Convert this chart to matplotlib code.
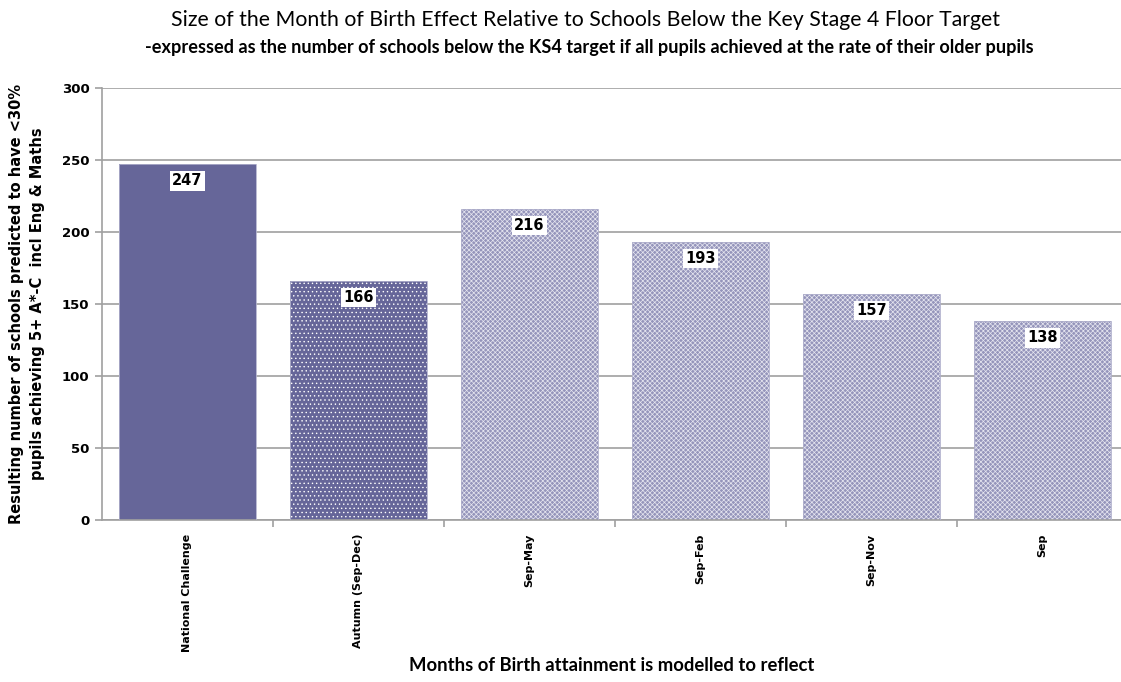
import matplotlib
matplotlib.use('Agg')
import matplotlib.pyplot as plt

plt.rcParams['hatch.linewidth'] = 0.5

categories = ['National Challenge', 'Autumn (Sep-Dec)', 'Sep-May', 'Sep-Feb', 'Sep-Nov', 'Sep']
values = [247, 166, 216, 193, 157, 138]

title = 'Size of the Month of Birth Effect Relative to Schools Below the Key Stage 4 Floor Target'
subtitle = '-expressed as the number of schools below the KS4 target if all pupils achieved at the rate of their older pupils'
xlabel = 'Months of Birth attainment is modelled to reflect'
ylabel = 'Resulting number of schools predicted to have <30%\npupils achieving 5+ A*-C  incl Eng & Maths'

fig = plt.figure(figsize=(11.21, 6.82), dpi=100)
ax = fig.add_axes([0.091, 0.2375, 0.915, 0.6335])

x = list(range(len(categories)))
# bar styles: solid, dotted, then checkered
faces = ['#666699', '#666699', '#9595bb', '#9595bb', '#9595bb', '#9595bb']
hatches = [None, '....', 'xxxxxxx', 'xxxxxxx', 'xxxxxxx', 'xxxxxxx']
hcols = ['#666699', 'white', '#e6e6f0', '#e6e6f0', '#e6e6f0', '#e6e6f0']
for i in x:
    ax.bar(i, values[i], width=0.8, color=faces[i], hatch=hatches[i],
           edgecolor=hcols[i], linewidth=0, zorder=2)
    ax.bar(i, values[i], width=0.8, fill=False, edgecolor='#b0b0cc', linewidth=0.6, zorder=3)
    ax.annotate(str(values[i]), (i, values[i]), xytext=(0, -12), textcoords='offset points',
                ha='center', va='center', fontsize=10.5, fontweight='bold', zorder=4,
                bbox=dict(boxstyle='square,pad=0.15', fc='white', ec='none'))

ax.set_xlim(-0.5, 5.5)
ax.set_ylim(0, 300)
ax.set_yticks(range(0, 301, 50))
ax.yaxis.grid(True, color='#a0a0a0', lw=1.2, zorder=0)
ax.set_axisbelow(True)
for s in ['top', 'right']:
    ax.spines[s].set_visible(False)
for s in ['left', 'bottom']:
    ax.spines[s].set_color('#a0a0a0')
    ax.spines[s].set_linewidth(1.2)

ax.set_xticks(x)
ax.set_xticklabels(categories, rotation=90, fontsize=8, fontweight='bold', va='top')
ax.tick_params(axis='x', which='major', length=0, pad=10)
ax.set_xticks([0.5, 1.5, 2.5, 3.5, 4.5], minor=True)
ax.tick_params(axis='x', which='minor', length=5, color='#a0a0a0', width=1.2)
ax.tick_params(axis='y', length=5, color='#a0a0a0', width=1.2, labelsize=9.5, pad=4)
for t in ax.get_yticklabels():
    t.set_fontweight('bold')

ax.set_ylabel(ylabel, fontsize=10.5, fontweight='bold', linespacing=1.5)
ax.yaxis.set_label_coords(-0.056, 0.5)
fig.text(0.546, 0.012, xlabel, ha='center', va='bottom', fontsize=13.3,
         family='Lato', fontweight='bold')
fig.text(0.522, 0.97, title, ha='center', va='center', fontsize=15.3, family='Lato')
fig.text(0.526, 0.931, subtitle, ha='center', va='center', fontsize=13.1,
         family='Lato', fontweight='bold')

fig.savefig('out.png', dpi=100)
